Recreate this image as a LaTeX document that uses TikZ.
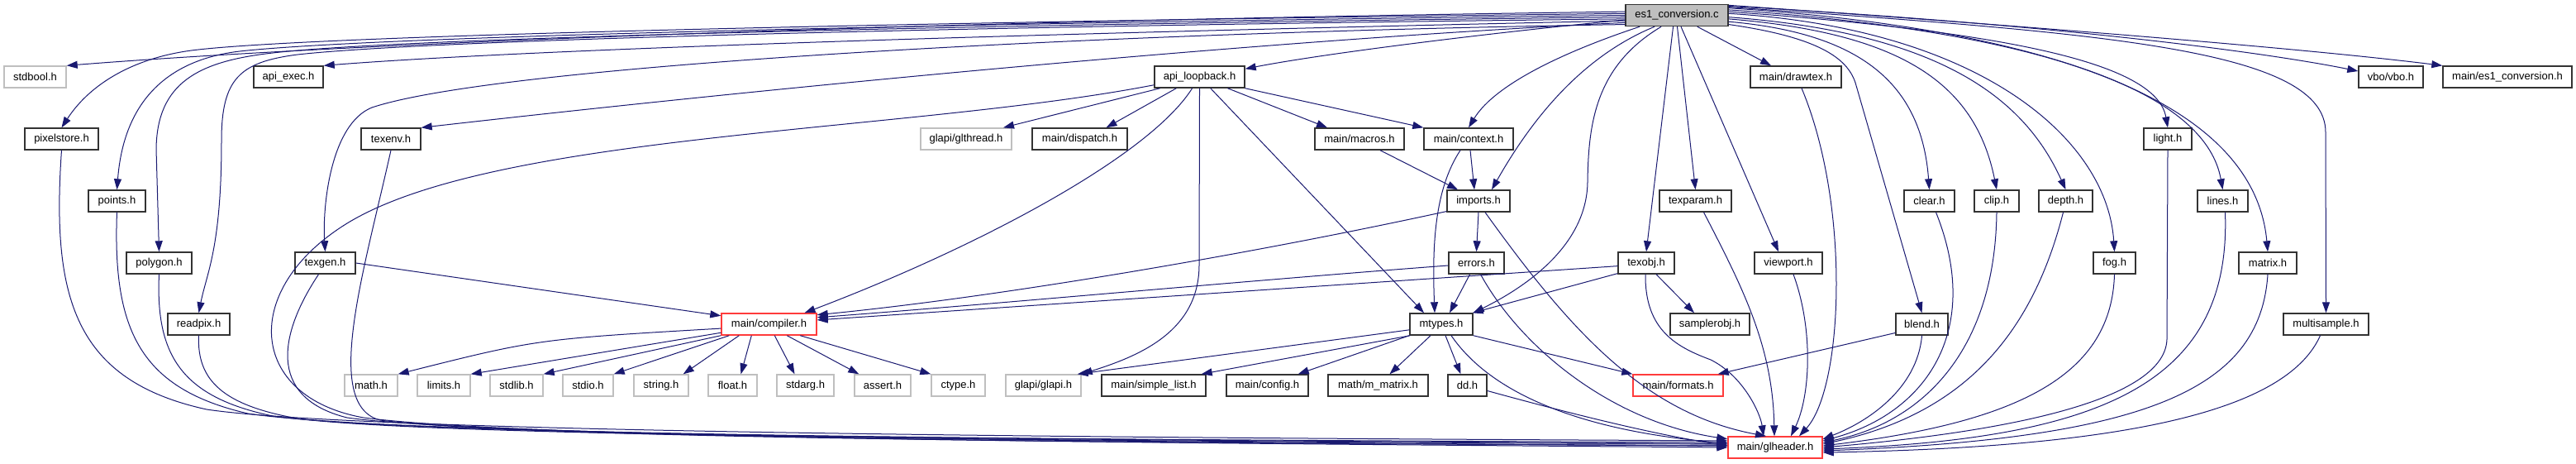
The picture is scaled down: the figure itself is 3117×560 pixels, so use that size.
\documentclass[tikz,border=0pt]{standalone}
\usepackage{fontspec}
\setmainfont{Liberation Sans}
\usetikzlibrary{arrows.meta}
\definecolor{edgeblue}{HTML}{191970}
\definecolor{sysgray}{HTML}{BFBFBF}
\definecolor{missred}{HTML}{FF3B3B}

\begin{document}
\begin{tikzpicture}[x=1pt, y=-1pt,
    include/.style={draw=edgeblue, line width=1pt,
        -{Triangle[length=13pt,width=9pt]}},
    header/.style={draw=black!80, fill=white, line width=1.4pt,
        minimum height=26pt, inner sep=0pt,
        font=\fontsize{13}{15}\selectfont},
    system header/.style={header, draw=sysgray},
    missing header/.style={header, draw=missred},
    source file/.style={header, fill=sysgray}
]
\path[use as bounding box] (0,0) rectangle (3117,560);

% the source file
\node[source file, minimum width=124pt] (es1) at (2029,18.5) {es1\_conversion.c};

% first level
\node[system header, minimum width=75pt] (stdbool) at (42.5,93) {stdbool.h};
\node[header, minimum width=84pt] (apiexec) at (349,93) {api\_exec.h};
\node[header, minimum width=109pt] (apiloop) at (1451.5,93) {api\_loopback.h};
\node[header, minimum width=110pt] (drawtex) at (2173,93) {main/drawtex.h};
\node[header, minimum width=78pt] (vbo) at (2893,93) {vbo/vbo.h};
\node[header, minimum width=156pt] (es1h) at (3034,93) {main/es1\_conversion.h};

\node[header, minimum width=89pt] (pixelstore) at (74.5,168) {pixelstore.h};
\node[header, minimum width=72pt] (texenv) at (473,168) {texenv.h};
\node[system header, minimum width=110pt] (glthread) at (1169,168) {glapi/glthread.h};
\node[header, minimum width=115pt] (dispatch) at (1306.5,168) {main/dispatch.h};
\node[header, minimum width=108pt] (macros) at (1645,168) {main/macros.h};
\node[header, minimum width=108pt] (context) at (1777,168) {main/context.h};
\node[header, minimum width=58pt] (light) at (2623,168) {light.h};

\node[header, minimum width=69pt] (points) at (141.5,243) {points.h};
\node[header, minimum width=76pt] (imports) at (1789,243) {imports.h};
\node[header, minimum width=87pt] (texparam) at (2051.5,243) {texparam.h};
\node[header, minimum width=61pt] (clear) at (2334.5,243) {clear.h};
\node[header, minimum width=54pt] (clip) at (2416,243) {clip.h};
\node[header, minimum width=65pt] (depth) at (2499.5,243) {depth.h};
\node[header, minimum width=61pt] (lines) at (2689.5,243) {lines.h};

\node[header, minimum width=79pt] (polygon) at (192.5,318) {polygon.h};
\node[header, minimum width=73pt] (texgen) at (393.5,318) {texgen.h};
\node[header, minimum width=67pt] (errors) at (1786.5,318) {errors.h};
\node[header, minimum width=68pt] (texobj) at (1992,318) {texobj.h};
\node[header, minimum width=82pt] (viewport) at (2164,318) {viewport.h};
\node[header, minimum width=51pt] (fog) at (2558.5,318) {fog.h};
\node[header, minimum width=70pt] (matrix) at (2744,318) {matrix.h};

\node[header, minimum width=75pt] (readpix) at (240.5,392) {readpix.h};
\node[missing header, minimum width=115pt] (compiler) at (930.5,392) {main/compiler.h};
\node[header, minimum width=76pt] (mtypes) at (1744,392) {mtypes.h};
\node[header, minimum width=96pt] (samplerobj) at (2069,392) {samplerobj.h};
\node[header, minimum width=63pt] (blend) at (2325.5,392) {blend.h};
\node[header, minimum width=103pt] (multisample) at (2814.5,392) {multisample.h};

\node[system header, minimum width=64pt] (math) at (449,466) {math.h};
\node[system header, minimum width=64pt] (limits) at (537,466) {limits.h};
\node[system header, minimum width=64pt] (stdlib) at (625,466) {stdlib.h};
\node[system header, minimum width=61pt] (stdio) at (711.5,466) {stdio.h};
\node[system header, minimum width=66pt] (string) at (800,466) {string.h};
\node[system header, minimum width=59pt] (float) at (886.5,466) {float.h};
\node[system header, minimum width=69pt] (stdarg) at (974.5,466) {stdarg.h};
\node[system header, minimum width=68pt] (assert) at (1068,466) {assert.h};
\node[system header, minimum width=65pt] (ctype) at (1159.5,466) {ctype.h};
\node[system header, minimum width=91pt] (glapi) at (1262.5,466) {glapi/glapi.h};
\node[header, minimum width=126pt] (simplelist) at (1396,466) {main/simple\_list.h};
\node[header, minimum width=99pt] (config) at (1533.5,466) {main/config.h};
\node[header, minimum width=121pt] (mmatrix) at (1667.5,466) {math/m\_matrix.h};
\node[header, minimum width=47pt] (dd) at (1775.5,466) {dd.h};
\node[missing header, minimum width=109pt] (formats) at (2030.5,466) {main/formats.h};

\node[missing header, minimum width=114pt] (glheader) at (2148,541) {main/glheader.h};

% es1_conversion.c, to the left
\draw[include] (es1.176) .. controls (1200,24) and (450,50) .. (stdbool.north east);
\draw[include] (es1.186) .. controls (1500,35) and (700,55) .. (apiexec.north east);
\draw[include] (es1.178) .. controls (1300,24) and (420,40) .. (240,60)
    .. controls (165,68) and (110,100) .. (pixelstore.north);
\draw[include] (es1.180) .. controls (1300,26) and (470,42) .. (290,62)
    .. controls (205,72) and (150,120) .. (points.north);
\draw[include] (es1.182) .. controls (1300,28) and (500,44) .. (330,64)
    .. controls (240,74) and (190,100) .. (189,180) -- (polygon.north);
\draw[include] (es1.184) .. controls (1300,30) and (540,46) .. (360,66)
    .. controls (290,75) and (268,95) .. (268,170)
    .. controls (268,300) and (250,330) .. (readpix.north);
\draw[include] (es1.188) .. controls (1500,50) and (900,110) .. (texenv.north east);
\draw[include] (es1.190) .. controls (1300,40) and (600,80) .. (450,130)
    .. controls (400,150) and (390,250) .. (texgen.north);
\draw[include] (es1.185) .. controls (1800,40) and (1600,65) .. (apiloop.10);

% es1_conversion.c, downwards
\draw[include] (es1.197) .. controls (1900,60) and (1810,100) .. (context.north);
\draw[include] (es1.207) .. controls (1910,70) and (1850,150) .. ([xshift=16pt]imports.north);
\draw[include] (es1.216) .. controls (1930,80) and (1922,150) .. (1921,220)
    .. controls (1920,300) and (1840,350) .. (mtypes.north east);
\draw[include] (es1.252) -- (texobj.north);
\draw[include] (es1.272) -- (texparam.north);
\draw[include] (es1.290) -- ([xshift=-12pt]viewport.north);
\draw[include] (es1.331) -- ([xshift=-30pt]drawtex.north);

% es1_conversion.c, to the right
\draw[include] (es1.350) .. controls (2200,45) and (2235,70) .. (2245,100) -- (blend.north);
\draw[include] (es1.353) .. controls (2250,40) and (2325,100) .. (clear.north);
\draw[include] (es1.356) .. controls (2300,40) and (2390,100) .. (clip.north);
\draw[include] (es1.358) .. controls (2350,40) and (2450,120) .. (depth.north);
\draw[include] (es1.2) .. controls (2400,35) and (2550,170) .. (fog.north);
\draw[include] (es1.4) .. controls (2450,40) and (2610,80) .. (light.north);
\draw[include] (es1.6) .. controls (2500,40) and (2670,120) .. (lines.north);
\draw[include] (es1.8) .. controls (2550,40) and (2730,150) .. (matrix.north);
\draw[include] (es1.9) .. controls (2550,40) and (2814,60) .. (2814,160) -- (multisample.north);
\draw[include] (es1.10) .. controls (2500,30) and (2750,65) .. (vbo.170);
\draw[include] (es1.11) .. controls (2500,35) and (2800,60) .. (es1h.north west);

% api_loopback.h
\draw[include] (apiloop.196) -- ([xshift=45pt]glthread.north);
\draw[include] (apiloop.206) -- ([xshift=32pt]dispatch.north);
\draw[include] (apiloop.237) .. controls (1390,190) and (1180,300) .. ([xshift=43pt]compiler.north);
\draw[include] (apiloop.south) -- (1451,320) .. controls (1451,400) and (1380,430) .. (glapi.north east);
\draw[include] (apiloop.314) -- ([xshift=-21pt]mtypes.north);
\draw[include] (apiloop.338) -- ([xshift=-39pt]macros.north);
\draw[include] (apiloop.346) -- (context.north west);
\draw[include] (apiloop.190) .. controls (1100,160) and (600,160) .. (420,270)
    .. controls (290,350) and (300,480) .. (440,505)
    .. controls (650,532) and (1500,536) .. (glheader.180);

% left column into main/glheader.h
\draw[include] (pixelstore.south) .. controls (62,360) and (90,460) .. (250,495)
    .. controls (450,525) and (1500,530) .. (glheader.172);
\draw[include] (points.south) .. controls (136,400) and (170,470) .. (300,500)
    .. controls (500,530) and (1500,532) .. (glheader.174);
\draw[include] (polygon.south) .. controls (188,430) and (220,480) .. (330,503)
    .. controls (520,530) and (1500,532) .. (glheader.176);
\draw[include] (readpix.south) .. controls (238,460) and (270,490) .. (360,506)
    .. controls (540,530) and (1500,534) .. (glheader.176);
\draw[include] ([xshift=-8pt]texgen.south) .. controls (340,400) and (320,480) .. (420,505)
    .. controls (600,530) and (1500,535) .. (glheader.178);
\draw[include] (texenv.south) .. controls (440,330) and (390,490) .. (460,508)
    .. controls (650,532) and (1500,536) .. (glheader.178);
\draw[include] (texgen.east) -- (compiler.170);

% main/compiler.h
\draw[include] (compiler.185) .. controls (650,410) .. (math.north east);
\draw[include] (compiler.190) -- (limits.north east);
\draw[include] (compiler.south west) -- (stdlib.north east);
\draw[include] ([xshift=10pt]compiler.south west) -- (stdio.north east);
\draw[include] ([xshift=22pt]compiler.south west) -- ([xshift=-7pt]string.north east);
\draw[include] ([xshift=37pt]compiler.south west) -- ([xshift=10pt]float.north);
\draw[include] ([xshift=65pt]compiler.south west) -- ([xshift=-13pt]stdarg.north);
\draw[include] ([xshift=80pt]compiler.south west) -- ([xshift=6pt]assert.north west);
\draw[include] ([xshift=96pt]compiler.south west) -- (ctype.north west);

% the main/ headers
\draw[include] ([xshift=25pt]macros.south) -- ([xshift=-25pt]imports.north);
\draw[include] ([xshift=2pt]context.south) -- ([xshift=-5pt]imports.north);
\draw[include] ([xshift=-10pt]context.south) .. controls (1735,230) and (1733,300) .. ([xshift=-8pt]mtypes.north);
\draw[include] (imports.south) -- (errors.north);
\draw[include] (imports.198) .. controls (1500,310) and (1200,360) .. (compiler.11);
\draw[include] ([xshift=8pt]imports.south) .. controls (1900,400) and (1990,500) .. ([xshift=-11pt]glheader.north);
\draw[include] ([xshift=-8pt]errors.south) -- ([xshift=10pt]mtypes.north);
\draw[include] (errors.185) .. controls (1500,340) and (1200,368) .. (compiler.8);
\draw[include] ([xshift=5pt]errors.south) .. controls (1840,420) and (1950,510) .. (glheader.170);
\draw[include] (texobj.186) -- (compiler.5);
\draw[include] (texobj.200) -- (mtypes.20);
\draw[include] ([xshift=12pt]texobj.south) -- ([xshift=-19pt]samplerobj.north);
\draw[include] ([xshift=-1pt]texobj.south) .. controls (1990,400) and (2030,420) .. (2070,435)
    .. controls (2110,455) and (2130,500) .. ([xshift=-14pt]glheader.north);
\draw[include] ([xshift=10pt]texparam.south) .. controls (2110,350) and (2145,420) .. ([xshift=-1pt]glheader.north);
\draw[include] ([xshift=7pt]drawtex.south) .. controls (2240,250) and (2230,470) .. ([xshift=29pt]glheader.north);
\draw[include] ([xshift=6pt]viewport.south) .. controls (2195,400) and (2190,480) .. ([xshift=19pt]glheader.north);

% mtypes.h
\draw[include] (mtypes.190) -- ([xshift=-5pt]glapi.north east);
\draw[include] (mtypes.200) -- ([xshift=-6pt]simplelist.north east);
\draw[include] (mtypes.south west) -- ([xshift=-13pt]config.north east);
\draw[include] ([xshift=-13pt]mtypes.south) -- ([xshift=14pt]mmatrix.north);
\draw[include] ([xshift=5pt]mtypes.south) -- ([xshift=-8pt]dd.north);
\draw[include] (mtypes.south east) -- (formats.north west);
\draw[include] ([xshift=12pt]mtypes.south) .. controls (1800,470) and (1900,520) .. (glheader.175);
\draw[include] (dd.345) .. controls (1900,500) and (2000,525) .. (glheader.178);

% right column into main/glheader.h
\draw[include] (blend.198) -- ([xshift=-7pt]formats.north east);
\draw[include] (blend.south) .. controls (2320,470) and (2260,510) .. (glheader.10);
\draw[include] ([xshift=8pt]clear.south) .. controls (2400,400) and (2330,500) .. (glheader.8);
\draw[include] (clip.south) .. controls (2414,420) and (2330,510) .. (glheader.6);
\draw[include] ([xshift=-3pt]depth.south) .. controls (2460,400) and (2380,500) .. (glheader.4);
\draw[include] (fog.south) .. controls (2555,450) and (2450,510) .. (glheader.2);
\draw[include] (light.south) -- (2622,410) .. controls (2620,480) and (2450,520) .. (glheader.0);
\draw[include] ([xshift=3pt]lines.south) .. controls (2700,460) and (2550,530) .. (glheader.358);
\draw[include] (matrix.south) .. controls (2735,470) and (2600,530) .. (glheader.356);
\draw[include] ([xshift=-7pt]multisample.south) .. controls (2770,490) and (2600,540) .. (glheader.354);

\end{tikzpicture}
\end{document}
